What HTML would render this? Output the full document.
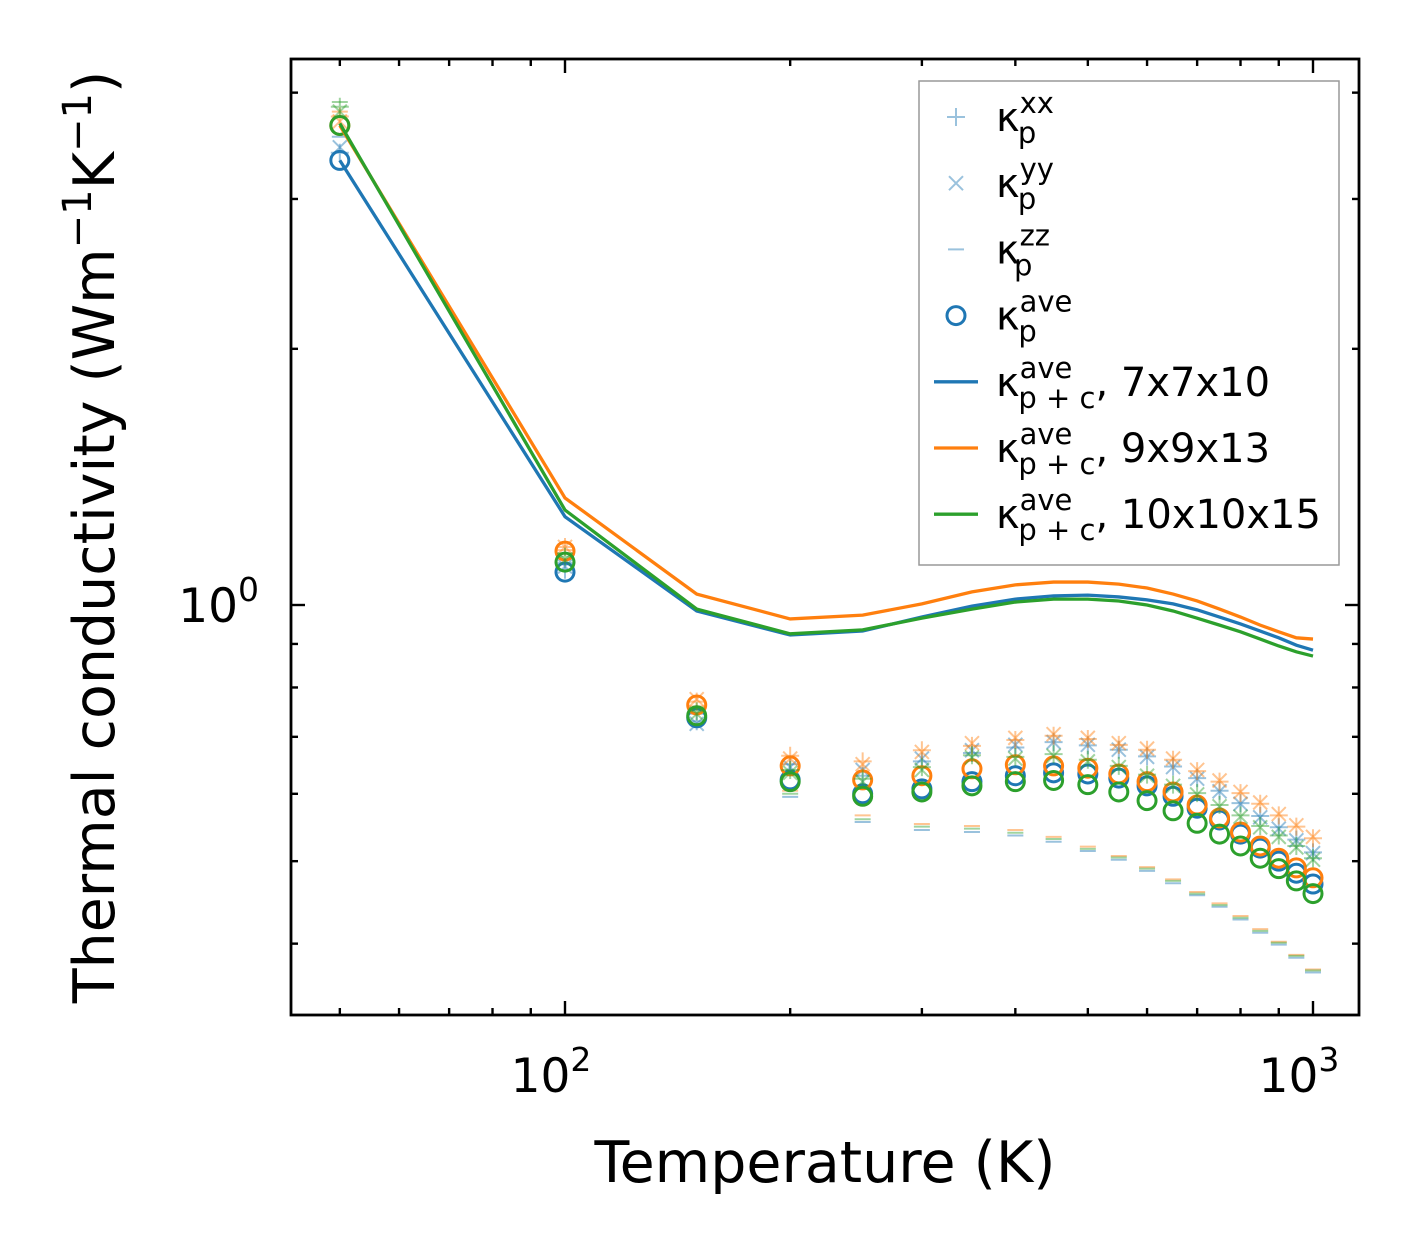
<!DOCTYPE html>
<html><head><meta charset="utf-8"><style>
html,body{margin:0;padding:0;background:#fff;}
svg{display:block;font-family:"DejaVu Sans","Liberation Sans",sans-serif;}
</style></head><body>
<svg id="chart" width="1421" height="1254" viewBox="0 0 1421 1254" xmlns="http://www.w3.org/2000/svg">
<rect x="0" y="0" width="1421" height="1254" fill="#fff"/>
<g id="marks"></g>
<g id="axes"></g>
<rect x="291" y="59" width="1068" height="956" fill="none" stroke="#000" stroke-width="2.8"/>
<text x="825" y="1182" font-size="57" text-anchor="middle">Temperature (K)</text>
<text transform="translate(114,537) rotate(-90)" font-size="57" text-anchor="middle">Thermal conductivity (Wm<tspan font-size="40" dy="-23">−1</tspan><tspan dy="23">K</tspan><tspan font-size="40" dy="-23">−1</tspan><tspan dy="23">)</tspan></text>
<g id="legend">
<rect x="919" y="81" width="420" height="484" fill="#fff" stroke="#999" stroke-width="1.5"/>
</g>
</svg>
<script>
const temps=[50,100,150,200,250,300,350,400,450,500,550,600,650,700,750,800,850,900,950,1000];
const lineBlue=[3.33,1.27,0.984,0.922,0.932,0.968,0.997,1.016,1.025,1.027,1.022,1.014,1.003,0.987,0.968,0.950,0.932,0.915,0.897,0.885];
const lineOrange=[3.66,1.336,1.03,0.963,0.973,1.003,1.036,1.056,1.064,1.064,1.058,1.047,1.030,1.011,0.989,0.968,0.947,0.930,0.915,0.912];
const lineGreen=[3.68,1.293,0.989,0.925,0.935,0.965,0.989,1.008,1.016,1.016,1.011,1.0,0.984,0.965,0.947,0.930,0.912,0.895,0.881,0.871];
const aveBlue=[3.33,1.093,0.737,0.623,0.600,0.608,0.620,0.630,0.635,0.633,0.626,0.613,0.596,0.577,0.559,0.538,0.518,0.500,0.484,0.470];
const aveOrange=[3.66,1.157,0.763,0.647,0.623,0.630,0.642,0.649,0.647,0.643,0.633,0.620,0.603,0.582,0.562,0.541,0.521,0.504,0.491,0.478];
const aveGreen=[3.66,1.123,0.741,0.620,0.596,0.603,0.613,0.620,0.622,0.615,0.603,0.589,0.573,0.554,0.538,0.521,0.504,0.490,0.474,0.458];
const xxBlue=[3.40,1.10,0.730,0.650,0.630,0.655,0.670,0.680,0.690,0.684,0.676,0.664,0.646,0.626,0.605,0.585,0.565,0.548,0.530,0.512];
const yyBlue=[3.45,1.11,0.725,0.645,0.640,0.660,0.675,0.685,0.690,0.685,0.676,0.663,0.645,0.625,0.604,0.584,0.563,0.546,0.529,0.511];
const zzBlue=[3.55,1.12,0.745,0.595,0.556,0.544,0.541,0.536,0.527,0.514,0.502,0.487,0.471,0.456,0.442,0.427,0.412,0.399,0.385,0.370];
const xxOrange=[3.75,1.17,0.770,0.665,0.655,0.675,0.683,0.694,0.702,0.696,0.685,0.676,0.658,0.638,0.620,0.601,0.584,0.566,0.549,0.532];
const yyOrange=[3.70,1.17,0.775,0.660,0.650,0.672,0.688,0.698,0.705,0.698,0.688,0.678,0.660,0.640,0.622,0.603,0.586,0.568,0.551,0.534];
const zzOrange=[3.80,1.16,0.760,0.605,0.566,0.553,0.550,0.544,0.534,0.520,0.507,0.492,0.476,0.460,0.446,0.431,0.416,0.402,0.388,0.373];
const xxGreen=[3.85,1.14,0.750,0.640,0.625,0.645,0.666,0.663,0.668,0.658,0.647,0.632,0.615,0.601,0.582,0.566,0.550,0.536,0.521,0.504];
const yyGreen=[3.80,1.13,0.745,0.635,0.620,0.640,0.662,0.660,0.665,0.655,0.645,0.630,0.613,0.599,0.580,0.564,0.548,0.534,0.519,0.502];
const zzGreen=[3.90,1.15,0.755,0.600,0.560,0.549,0.546,0.540,0.531,0.517,0.505,0.490,0.474,0.458,0.444,0.429,0.414,0.401,0.387,0.372];
const xMajor=[100,1000];
const xMajorExp=["2","3"];
const xMinor=[50,60,70,80,90,200,300,400,500,600,700,800,900];
const yMinor=[0.4,0.5,0.6,0.7,0.8,0.9,2,3,4];

const NS="http://www.w3.org/2000/svg";
const X0=291,X1=1359,Y0=59,Y1=1015;
function xS(t){return 565+748*(Math.log10(t)-2);}
function yS(v){return 605-851*Math.log10(v);}
function mk(tag,attrs,parent){const e=document.createElementNS(NS,tag);for(const k in attrs)e.setAttribute(k,attrs[k]);parent.appendChild(e);return e;}
const marks=document.getElementById('marks');
const axes=document.getElementById('axes');
const C={b:"#1f77b4",o:"#ff7f0e",g:"#2ca02c"};

function drawPlus(x,y,c,g){mk('path',{d:`M${x-9},${y}H${x+9}M${x},${y-9}V${y+9}`,stroke:c,'stroke-width':2,fill:'none',opacity:0.45},g);}
function drawX(x,y,c,g){mk('path',{d:`M${x-7},${y-7}L${x+7},${y+7}M${x-7},${y+7}L${x+7},${y-7}`,stroke:c,'stroke-width':2,fill:'none',opacity:0.45},g);}
function drawDash(x,y,c,g){mk('path',{d:`M${x-8},${y}H${x+8}`,stroke:c,'stroke-width':2,fill:'none',opacity:0.45},g);}
function drawCircle(x,y,c,g){mk('circle',{cx:x,cy:y,r:9,stroke:c,'stroke-width':3,fill:'none'},g);}

const sets=[[xxBlue,yyBlue,zzBlue,aveBlue,lineBlue,C.b,'blue'],[xxOrange,yyOrange,zzOrange,aveOrange,lineOrange,C.o,'orange'],[xxGreen,yyGreen,zzGreen,aveGreen,lineGreen,C.g,'green']];
sets.forEach(([xx,yy,zz,av,ln,c,nm])=>{
  const g=mk('g',{},marks);
  
  
  temps.forEach((t,i)=>{drawPlus(xS(t),yS(xx[i]),c,g);drawX(xS(t),yS(yy[i]),c,g);drawDash(xS(t),yS(zz[i]),c,g);});
  temps.forEach((t,i)=>drawCircle(xS(t),yS(av[i]),c,g));
});
sets.forEach(([xx,yy,zz,av,ln,c,nm])=>{
  const p=mk('polyline',{points:temps.map((t,i)=>xS(t)+','+yS(ln[i])).join(' '),stroke:c,'stroke-width':3.3,fill:'none'},marks);
  
  
});

function tick(x1,y1,x2,y2){mk('line',{x1,y1,x2,y2,stroke:'#000','stroke-width':2.4},axes);}
xMajor.forEach((t,i)=>{const x=xS(t);tick(x,Y1,x,Y1-14);tick(x,Y0,x,Y0+14);
  const tx=mk('text',{x:x-14,y:1092,'font-size':47,'text-anchor':'middle'},axes);
  
  
  tx.innerHTML='10<tspan font-size="33" dy="-21">'+xMajorExp[i]+'</tspan>';});
xMinor.forEach(t=>{const x=xS(t);tick(x,Y1,x,Y1-7);tick(x,Y0,x,Y0+7);});
{const y=yS(1);tick(X0,y,X0+14,y);tick(X1,y,X1-14,y);
  const ty=mk('text',{x:259,y:y+17,'font-size':47,'text-anchor':'end'},axes);
  
  
  ty.innerHTML='10<tspan font-size="33" dy="-21">0</tspan>';}
yMinor.forEach(v=>{const y=yS(v);tick(X0,y,X0+7,y);tick(X1,y,X1-7,y);});

const lg=document.getElementById('legend');
const entries=[['plus','xx','p',C.b],['x','yy','p',C.b],['dash','zz','p',C.b],['circle','ave','p',C.b],['line','ave','p + c',C.b,', 7x7x10'],['line','ave','p + c',C.o,', 9x9x13'],['line','ave','p + c',C.g,', 10x10x15']];
entries.forEach((e,i)=>{
  const y=117+i*66.2, x=956;
  const g=mk('g',{},lg);
  
  
  if(e[0]==='plus')drawPlus(x,y,e[3],g);
  if(e[0]==='x')drawX(x,y,e[3],g);
  if(e[0]==='dash')drawDash(x,y,e[3],g);
  if(e[0]==='circle')drawCircle(x,y,e[3],g);
  if(e[0]==='line')mk('line',{x1:934,y1:y,x2:978,y2:y,stroke:e[3],'stroke-width':3.3},g);
  const t=mk('text',{x:996,y:y+14,'font-size':40},g);
  t.innerHTML='κ<tspan font-size="29" dy="-18">'+e[1]+'</tspan><tspan font-size="29" dx="-'+(e[1].length*18)+'" dy="30">'+e[2]+'</tspan><tspan dy="-12">'+(e[4]||'')+'</tspan>';
});
</script>
</body></html>
